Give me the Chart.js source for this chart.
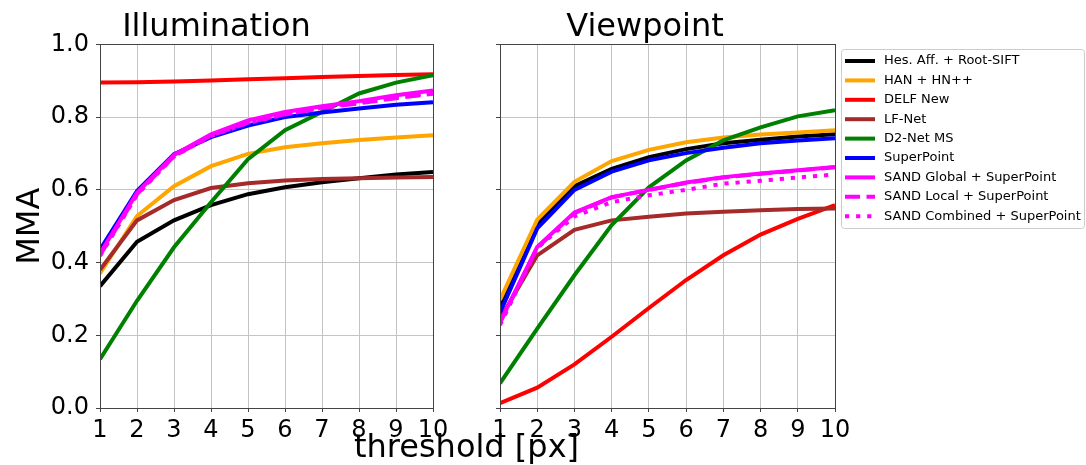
<!DOCTYPE html>
<html>
<head>
<meta charset="utf-8">
<script src="https://cdn.jsdelivr.net/npm/chart.js@4.4.1/dist/chart.umd.min.js"></script>
<style>
  html, body { margin: 0; padding: 0; background: #fff; }
  #fig { position: relative; width: 1086px; height: 465px; overflow: hidden; }
  canvas { position: absolute; top: 0; }
  #leftChart { left: 0; }
  #rightChart { left: 455px; }
  #xlabel {
    position: absolute; left: 0; width: 933px; top: 430px;
    text-align: center; font: 32px "DejaVu Sans"; line-height: 32px; color: #000;
  }
</style>
</head>
<body>
<div id="fig">
  <canvas id="leftChart" width="453" height="465"></canvas>
  <canvas id="rightChart" width="631" height="465"></canvas>
  <div id="xlabel">threshold [px]</div>
</div>
<script>
const THRESHOLDS = [1, 2, 3, 4, 5, 6, 7, 8, 9, 10];
const Y_TICKS = [0, 0.2, 0.4, 0.6, 0.8, 1.0];

const METHODS = [
  "Hes. Aff. + Root-SIFT", "HAN + HN++", "DELF New", "LF-Net", "D2-Net MS",
  "SuperPoint", "SAND Global + SuperPoint", "SAND Local + SuperPoint", "SAND Combined + SuperPoint",
];
const COLORS = ["#000000", "#ffa500", "#ff0000", "#a52a2a", "#008000", "#0000ff", "#ff00ff", "#ff00ff", "#ff00ff"];
const DASHES = [[], [], [], [], [], [], [], [15, 6.5], [4.2, 6.9]];

// Illumination
const ILLUM_HES = [0.335, 0.457, 0.516, 0.558, 0.588, 0.607, 0.621, 0.632, 0.642, 0.649];
const ILLUM_HAN = [0.37, 0.528, 0.61, 0.665, 0.699, 0.717, 0.728, 0.737, 0.744, 0.75];
const ILLUM_DELF = [0.895, 0.896, 0.898, 0.901, 0.904, 0.907, 0.91, 0.913, 0.916, 0.918];
const ILLUM_LFNET = [0.38, 0.516, 0.572, 0.605, 0.618, 0.626, 0.63, 0.632, 0.634, 0.635];
const ILLUM_D2NET = [0.134, 0.295, 0.442, 0.566, 0.684, 0.764, 0.814, 0.865, 0.895, 0.915];
const ILLUM_SP = [0.435, 0.597, 0.698, 0.745, 0.777, 0.8, 0.813, 0.824, 0.834, 0.841];
const ILLUM_SAND_G = [0.425, 0.592, 0.696, 0.753, 0.791, 0.814, 0.83, 0.844, 0.86, 0.873];
const ILLUM_SAND_L = [0.42, 0.588, 0.693, 0.749, 0.785, 0.808, 0.825, 0.838, 0.852, 0.864];
const ILLUM_SAND_C = [0.418, 0.586, 0.692, 0.748, 0.784, 0.807, 0.826, 0.842, 0.855, 0.866];

// Viewpoint
const VIEW_HES = [0.28, 0.505, 0.61, 0.658, 0.69, 0.712, 0.728, 0.738, 0.747, 0.753];
const VIEW_HAN = [0.297, 0.518, 0.622, 0.679, 0.71, 0.731, 0.744, 0.752, 0.758, 0.764];
const VIEW_DELF = [0.013, 0.056, 0.12, 0.196, 0.275, 0.352, 0.42, 0.477, 0.52, 0.558];
const VIEW_LFNET = [0.245, 0.42, 0.49, 0.516, 0.526, 0.535, 0.54, 0.544, 0.547, 0.549];
const VIEW_D2NET = [0.068, 0.218, 0.365, 0.503, 0.607, 0.681, 0.736, 0.772, 0.802, 0.819];
const VIEW_SP = [0.262, 0.494, 0.6, 0.65, 0.681, 0.701, 0.716, 0.728, 0.736, 0.742];
const VIEW_SAND_G = [0.236, 0.443, 0.538, 0.58, 0.6, 0.62, 0.635, 0.645, 0.654, 0.663];
const VIEW_SAND_L = [0.234, 0.441, 0.536, 0.579, 0.6, 0.619, 0.634, 0.644, 0.653, 0.662];
const VIEW_SAND_C = [0.228, 0.44, 0.527, 0.566, 0.585, 0.6, 0.617, 0.625, 0.634, 0.642];

const ILLUM = [ILLUM_HES, ILLUM_HAN, ILLUM_DELF, ILLUM_LFNET, ILLUM_D2NET, ILLUM_SP, ILLUM_SAND_G, ILLUM_SAND_L, ILLUM_SAND_C];
const VIEW = [VIEW_HES, VIEW_HAN, VIEW_DELF, VIEW_LFNET, VIEW_D2NET, VIEW_SP, VIEW_SAND_G, VIEW_SAND_L, VIEW_SAND_C];

Chart.defaults.font.family = "DejaVu Sans";
Chart.defaults.color = "#000";

const GRID = "#c4c4c4";
const SPINE = "#444";

function makeDatasets(series) {
  return series.map((vals, i) => ({
    label: METHODS[i],
    data: THRESHOLDS.map((t, j) => ({ x: t, y: vals[j] })),
    borderColor: COLORS[i],
    borderWidth: 4,
    borderDash: DASHES[i],
    borderCapStyle: "butt",
    pointRadius: 0,
    tension: 0,
    fill: false,
    order: series.length - i, // first series at the bottom, like matplotlib
  }));
}

const framePlugin = {
  id: "frame",
  afterDraw(chart) {
    const { ctx, chartArea: a } = chart;
    ctx.save();
    ctx.strokeStyle = SPINE;
    ctx.lineWidth = 1;
    ctx.strokeRect(Math.round(a.left) + 0.5, Math.round(a.top) + 0.5, Math.round(a.right - a.left), Math.round(a.bottom - a.top));
    ctx.restore();
  },
};

const legendPlugin = {
  id: "boxLegend",
  afterDraw(chart) {
    const ctx = chart.ctx;
    const x0 = 386, y0 = 49, w = 243, h = 179, r = 3;
    ctx.save();
    ctx.beginPath();
    ctx.roundRect(x0 + 0.5, y0 + 0.5, w, h, r);
    ctx.fillStyle = "rgba(255,255,255,0.8)";
    ctx.fill();
    ctx.strokeStyle = "#cccccc";
    ctx.lineWidth = 1;
    ctx.stroke();
    ctx.font = "13px 'DejaVu Sans'";
    ctx.textBaseline = "middle";
    METHODS.forEach((name, i) => {
      const y = 61 + i * 19.4;
      ctx.beginPath();
      ctx.setLineDash(DASHES[i]);
      ctx.lineCap = "butt";
      ctx.strokeStyle = COLORS[i];
      ctx.lineWidth = 4;
      ctx.moveTo(390, y);
      ctx.lineTo(420, y);
      ctx.stroke();
      ctx.setLineDash([]);
      ctx.fillStyle = "#000";
      ctx.fillText(name, 429, y);
    });
    ctx.restore();
  },
};

function makeOptions(title, showY, padRight, yWidth) {
  return {
    responsive: false,
    animation: false,
    layout: { padding: { left: 0, right: padRight, top: 0, bottom: 0 } },
    plugins: {
      legend: { display: false },
      tooltip: { enabled: false },
      title: {
        display: true,
        text: title,
        font: { size: 32, weight: "normal" },
        padding: { top: 8, bottom: -2 },
      },
    },
    scales: {
      x: {
        type: "linear",
        min: 1, max: 10,
        ticks: { stepSize: 1, font: { size: 24 }, padding: 4, maxRotation: 0 },
        grid: { color: GRID, tickColor: SPINE, tickLength: 4 },
        border: { color: SPINE },
        afterFit(scale) { scale.height = 57; },
      },
      y: {
        min: 0, max: 1,
        afterBuildTicks(scale) { scale.ticks = Y_TICKS.map((v) => ({ value: v })); },
        ticks: {
          display: showY,
          font: { size: 24 },
          padding: 7,
          callback: (v) => v.toFixed(1),
        },
        grid: { color: GRID, tickColor: SPINE, tickLength: 4 },
        border: { color: SPINE },
        title: {
          display: showY,
          text: "MMA",
          font: { size: 32 },
          padding: { top: 11, bottom: 0 },
        },
        afterFit(scale) { scale.width = yWidth; },
      },
    },
  };
}

new Chart(document.getElementById("leftChart"), {
  type: "line",
  data: { datasets: makeDatasets(ILLUM) },
  options: makeOptions("Illumination", true, 20, 100),
  plugins: [framePlugin],
});

new Chart(document.getElementById("rightChart"), {
  type: "line",
  data: { datasets: makeDatasets(VIEW) },
  options: makeOptions("Viewpoint", false, 251, 45),
  plugins: [framePlugin, legendPlugin],
});
</script>
</body>
</html>
